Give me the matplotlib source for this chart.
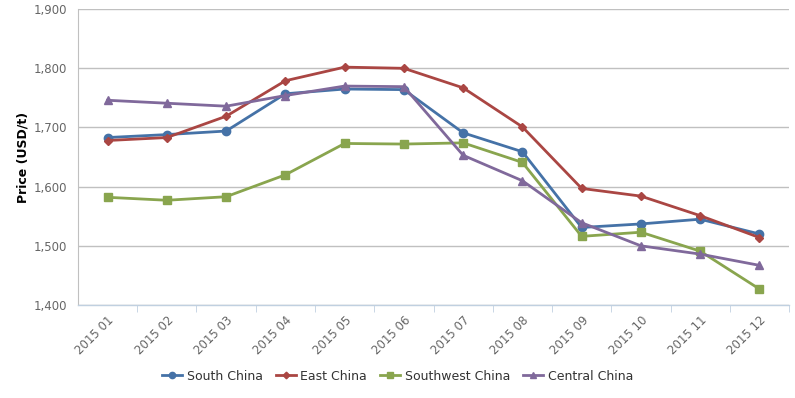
import matplotlib
matplotlib.use("Agg")
import matplotlib.pyplot as plt
from matplotlib.ticker import FuncFormatter

# monthly price data
months = ["2015 01", "2015 02", "2015 03", "2015 04", "2015 05", "2015 06",
          "2015 07", "2015 08", "2015 09", "2015 10", "2015 11", "2015 12"]
south_china = [1683, 1688, 1694, 1757, 1765, 1764, 1691, 1659, 1531, 1537, 1545, 1520]
east_china = [1678, 1683, 1719, 1779, 1802, 1800, 1767, 1701, 1597, 1584, 1551, 1514]
southwest_china = [1582, 1577, 1583, 1620, 1673, 1672, 1674, 1641, 1516, 1523, 1491, 1427]
central_china = [1746, 1741, 1736, 1754, 1770, 1769, 1653, 1610, 1539, 1500, 1486, 1467]

series = [
    ("South China", south_china, "#4572A7", "o", 6),
    ("East China", east_china, "#AA4643", "D", 4.5),
    ("Southwest China", southwest_china, "#89A54E", "s", 5.5),
    ("Central China", central_china, "#80699B", "^", 6),
]

fig = plt.figure(figsize=(7.95, 3.98), dpi=100)
ax = fig.add_axes([0.0981, 0.2337, 0.8944, 0.7433])

x = list(range(len(months)))
for name, vals, color, marker, ms in series:
    ax.plot(x, vals, color=color, marker=marker, markersize=ms, linewidth=2,
            label=name, zorder=3)

ax.set_ylim(1400, 1900)
ax.set_yticks(range(1400, 1901, 100))
ax.yaxis.set_major_formatter(FuncFormatter(lambda v, p: f"{int(v):,}"))
ax.set_xlim(-0.5, len(months) - 0.5)
ax.set_xticks(x)
ax.set_xticklabels(months, rotation=45, ha="right", rotation_mode="anchor")
ax.set_xticks([i + 0.5 for i in range(len(months))], minor=True)

ax.grid(axis="y", color="#C0C0C0", linewidth=1)
ax.set_axisbelow(True)

for s in ["top", "right"]:
    ax.spines[s].set_visible(False)
ax.spines["left"].set_color("#C0C0C0")
ax.spines["left"].set_linewidth(0.8)
ax.spines["bottom"].set_color("#C0D0E0")
ax.spines["bottom"].set_linewidth(1)

ax.tick_params(axis="y", length=0, labelsize=8.5, labelcolor="#666666", pad=8)
ax.tick_params(axis="x", which="major", length=0, labelsize=8.5, labelcolor="#666666", pad=6)
ax.tick_params(axis="x", which="minor", length=5, color="#C0D0E0", direction="out")

ax.set_ylabel("Price (USD/t)", fontsize=9, fontweight="bold", color="#000000", labelpad=3)

fig.legend(loc="lower center", bbox_to_anchor=(0.5, 0.01), ncol=4, frameon=False,
           fontsize=9, handlelength=1.6, columnspacing=1.0, handletextpad=0.4,
           markerscale=0.75, labelcolor="#333333")

fig.savefig("out.png", dpi=100)
